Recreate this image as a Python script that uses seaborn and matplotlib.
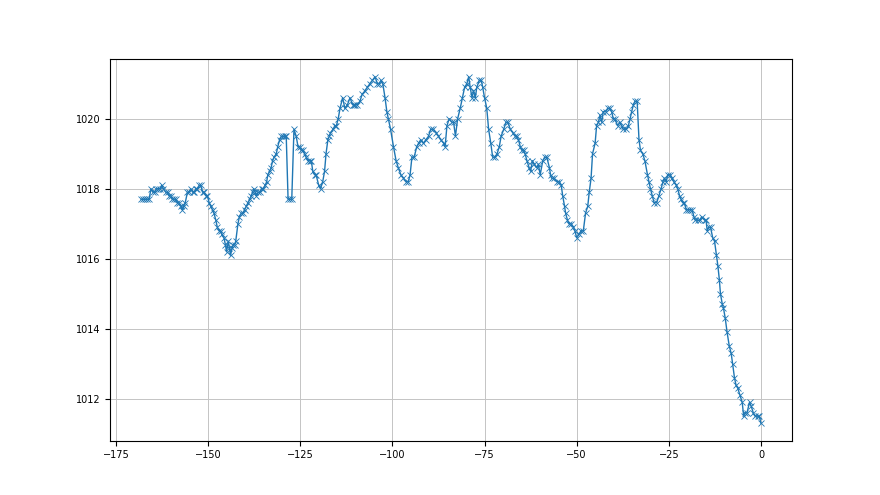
import numpy as np
import pandas as pd
import matplotlib
matplotlib.use('Agg')
import matplotlib.pyplot as plt
import seaborn as sns

# hours relative to now
hours = [
    -168.2, -167.7, -167.2, -166.6, -166.0, -165.5, -165.0, -164.5, -164.0, -163.5,
    -163.0, -162.6, -162.1, -161.5, -161.0, -160.6, -160.1, -159.7, -159.2, -158.8,
    -158.3, -157.9, -157.4, -157.0, -156.6, -156.2, -155.6, -155.1, -154.7, -154.2,
    -153.8, -153.3, -152.9, -152.4, -152.0, -151.5, -151.1, -150.6, -150.2, -149.7,
    -149.3, -148.8, -148.4, -147.9, -147.5, -147.0, -146.6, -146.3, -145.7, -145.3,
    -145.0, -144.5, -144.2, -143.9, -143.5, -143.2, -142.8, -142.5,
    -141.9, -141.5, -141.0, -140.5, -140.1, -139.6, -139.2, -138.7, -138.3, -137.9,
    -137.6, -137.2, -136.9, -136.4, -136.0, -135.5, -135.1, -134.5, -134.1, -133.8,
    -133.3, -132.9, -132.5, -132.1, -131.5, -131.1, -130.6, -130.1, -129.7, -129.2,
    -128.8, -128.3, -127.8, -127.3, -126.7, -126.1, -125.6, -125.1, -124.7, -124.2,
    -123.8, -123.4, -122.9, -122.4, -122.0, -121.6, -121.1, -120.7, -120.0, -119.5,
    -118.9, -118.4, -118.0, -117.5, -117.1, -116.8, -116.1, -115.6, -115.2, -114.7,
    -114.2, -113.5, -112.9, -112.2, -111.5, -110.8, -110.4, -110.1, -109.5, -108.8,
    -108.2, -107.4, -106.8, -106.1, -105.4, -104.7, -104.1, -103.5, -103.1, -102.6,
    -102.0, -101.5, -101.1, -100.5, -99.7, -99.0, -98.4, -97.7, -97.0, -96.3,
    -95.7, -95.2, -94.7, -94.1, -93.4, -92.9, -92.3, -91.6, -90.9, -90.2,
    -89.6, -88.9, -88.1, -87.5, -86.9, -86.1, -85.7, -85.2, -84.6, -83.9,
    -83.4, -82.9, -82.3, -81.6, -81.0, -80.4, -79.8, -79.3, -78.9, -78.4,
    -78.0, -77.5, -77.1, -76.4, -75.9, -75.5, -75.0, -74.4, -73.9, -73.3,
    -72.8, -72.1, -71.6, -71.0, -70.5, -69.8, -69.2, -68.7, -68.0, -67.3,
    -66.7, -66.2, -65.8, -65.3, -64.9, -64.4, -64.0, -63.5, -62.9, -62.5,
    -62.0, -61.6, -60.8, -60.4, -59.9, -59.2, -58.7, -58.1, -57.4, -57.1,
    -56.8, -56.1, -55.4, -54.7, -54.2, -53.8, -53.3, -53.0, -52.5, -52.1,
    -51.5, -50.9, -50.5, -50.0, -49.4, -48.8, -48.2, -47.6, -47.0, -46.6,
    -46.1, -45.7, -45.0, -44.6, -44.1, -43.7, -43.2, -42.8, -42.1, -41.6,
    -41.0, -40.5, -40.1, -39.6, -38.9, -38.3, -37.8, -37.4, -36.6, -36.0,
    -35.5, -35.1, -34.6, -34.2, -33.6, -33.1, -32.7, -32.1, -31.5, -30.8,
    -30.4, -30.0, -29.5, -29.0, -28.3, -27.7, -27.1, -26.6, -26.2, -25.7,
    -25.3, -24.6, -24.2, -23.6, -23.0, -22.6, -22.1, -21.7, -21.2, -20.8,
    -20.3, -19.9, -19.2, -18.7, -18.2, -17.8, -17.1, -16.5, -16.1, -15.3,
    -14.9, -14.6, -14.2, -13.7, -13.1, -12.6, -12.1, -11.7, -11.3, -11.0,
    -10.5, -10.2, -9.7, -9.2, -8.6, -8.1, -7.7, -7.2, -6.8, -6.3,
    -5.7, -5.1, -4.7, -4.3, -3.8, -3.1, -2.7, -2.1, -1.6, -0.9,
    -0.5, 0.0,
]

# pressure readings (hPa)
pressure = [
    1017.7, 1017.7, 1017.7, 1017.7, 1017.7, 1018.0, 1017.9, 1017.9, 1018.0, 1018.0,
    1018.0, 1018.1, 1018.0, 1017.9, 1017.9, 1017.8, 1017.8, 1017.7, 1017.7, 1017.7,
    1017.6, 1017.6, 1017.5, 1017.4, 1017.5, 1017.6, 1017.9, 1017.9, 1018.0, 1017.9,
    1017.9, 1018.0, 1018.0, 1018.1, 1018.1, 1017.9, 1017.9, 1017.8, 1017.8, 1017.6,
    1017.5, 1017.4, 1017.3, 1017.1, 1016.9, 1016.8, 1016.8, 1016.7, 1016.6, 1016.4,
    1016.2, 1016.5, 1016.3, 1016.1, 1016.3, 1016.4, 1016.4, 1016.5,
    1017.0, 1017.2, 1017.3, 1017.3, 1017.4, 1017.5, 1017.6, 1017.7, 1017.8, 1017.9,
    1018.0, 1017.9, 1017.8, 1017.9, 1017.9, 1018.0, 1018.0, 1018.1, 1018.2, 1018.4,
    1018.5, 1018.6, 1018.8, 1018.9, 1019.0, 1019.2, 1019.4, 1019.5, 1019.5, 1019.5,
    1019.5, 1017.7, 1017.7, 1017.7, 1019.7, 1019.5, 1019.2, 1019.2, 1019.1, 1019.1,
    1019.0, 1018.9, 1018.8, 1018.8, 1018.8, 1018.5, 1018.4, 1018.4, 1018.1, 1018.0,
    1018.2, 1018.5, 1019.0, 1019.4, 1019.5, 1019.6, 1019.7, 1019.8, 1019.8, 1020.0,
    1020.3, 1020.6, 1020.3, 1020.4, 1020.6, 1020.4, 1020.4, 1020.4, 1020.4, 1020.5,
    1020.7, 1020.8, 1020.9, 1021.0, 1021.1, 1021.2, 1021.0, 1021.0, 1021.1, 1021.0,
    1020.6, 1020.2, 1020.0, 1019.7, 1019.2, 1018.8, 1018.6, 1018.4, 1018.3, 1018.2,
    1018.2, 1018.4, 1018.9, 1018.9, 1019.2, 1019.3, 1019.4, 1019.3, 1019.4, 1019.5,
    1019.7, 1019.7, 1019.6, 1019.5, 1019.4, 1019.3, 1019.2, 1019.8, 1020.0, 1019.9,
    1019.9, 1019.5, 1020.0, 1020.3, 1020.6, 1020.9, 1021.0, 1021.2, 1020.9, 1020.6,
    1020.8, 1020.6, 1020.9, 1021.1, 1021.1, 1020.9, 1020.6, 1020.3, 1019.7, 1019.3,
    1018.9, 1018.9, 1019.0, 1019.2, 1019.5, 1019.7, 1019.9, 1019.9, 1019.7, 1019.6,
    1019.5, 1019.5, 1019.4, 1019.2, 1019.1, 1019.1, 1019.0, 1018.8, 1018.6, 1018.5,
    1018.8, 1018.7, 1018.6, 1018.7, 1018.4, 1018.8, 1018.9, 1018.9, 1018.6, 1018.4,
    1018.3, 1018.3, 1018.2, 1018.2, 1018.1, 1017.8, 1017.5, 1017.3, 1017.1, 1017.0,
    1017.0, 1016.9, 1016.8, 1016.6, 1016.7, 1016.8, 1016.8, 1017.3, 1017.5, 1017.9,
    1018.3, 1019.0, 1019.3, 1019.8, 1019.9, 1020.1, 1019.9, 1020.2, 1020.2, 1020.3,
    1020.3, 1020.2, 1020.0, 1020.0, 1019.8, 1019.9, 1019.8, 1019.7, 1019.7, 1019.8,
    1020.0, 1020.2, 1020.4, 1020.5, 1020.5, 1019.4, 1019.1, 1019.0, 1018.8, 1018.4,
    1018.2, 1018.0, 1017.8, 1017.6, 1017.6, 1017.8, 1018.0, 1018.2, 1018.3, 1018.2,
    1018.4, 1018.4, 1018.3, 1018.2, 1018.1, 1018.0, 1017.8, 1017.7, 1017.6, 1017.6,
    1017.4, 1017.4, 1017.4, 1017.4, 1017.2, 1017.1, 1017.1, 1017.1, 1017.2, 1017.1,
    1017.1, 1016.8, 1016.9, 1016.9, 1016.6, 1016.5, 1016.1, 1015.8, 1015.4, 1015.0,
    1014.7, 1014.6, 1014.3, 1013.9, 1013.5, 1013.3, 1013.0, 1012.6, 1012.4, 1012.3,
    1012.1, 1011.9, 1011.5, 1011.6, 1011.6, 1011.9, 1011.8, 1011.6, 1011.5, 1011.5,
    1011.5, 1011.3,
]

df = pd.DataFrame({'hours': hours, 'pressure': pressure})

fig, ax = plt.subplots(figsize=(8.8, 4.95), dpi=100)
sns.lineplot(data=df, x='hours', y='pressure', ax=ax, marker='x',
             color='#1f77b4', linewidth=1.0, markersize=4,
             markeredgewidth=0.6, markeredgecolor='#1f77b4', sort=False)

ax.grid(True, color='#c4c4c4', linewidth=0.7)
ax.set_xlabel('')
ax.set_ylabel('')
ax.tick_params(labelsize=7)
ax.set_xticks([-175, -150, -125, -100, -75, -50, -25, 0])
ax.set_yticks([1012, 1014, 1016, 1018, 1020])

fig.savefig('out.png', dpi=100)
